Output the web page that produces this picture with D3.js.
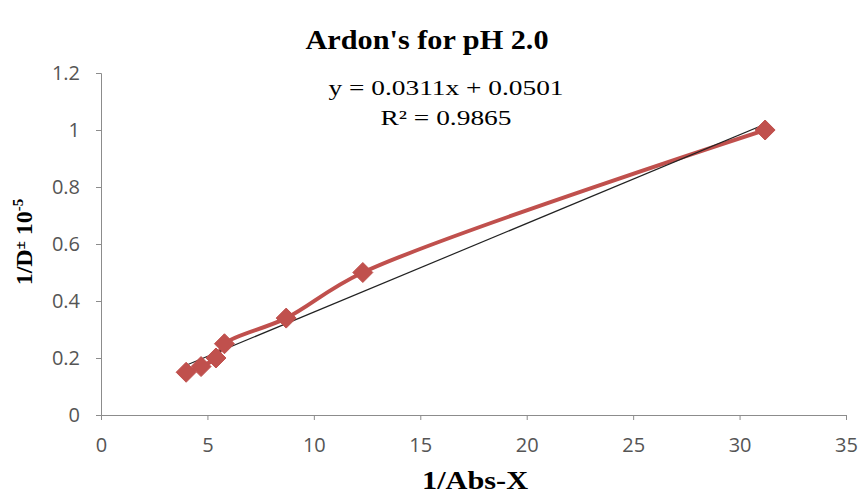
<!DOCTYPE html>
<html>
<head>
<meta charset="utf-8">
<script src="https://cdn.jsdelivr.net/npm/d3@7"></script>
<style>
  body { margin: 0; background: #fff; }
</style>
</head>
<body>
<div id="chart"></div>
<script>
// data
const xValues = [4.0, 4.7, 5.4, 5.8, 8.7, 12.3, 31.2];
const yValues = [0.15, 0.17, 0.20, 0.25, 0.34, 0.50, 1.00];
const xTicks = [0, 5, 10, 15, 20, 25, 30, 35];
const yTicks = [0, 0.2, 0.4, 0.6, 0.8, 1, 1.2];
const trendSlope = 0.0311;
const trendIntercept = 0.0501;
const equationLines = ["y = 0.0311x + 0.0501", "R² = 0.9865"];

const width = 862, height = 497;

const svg = d3.select("#chart").append("svg")
    .attr("width", width)
    .attr("height", height);

const x = d3.scaleLinear().domain([0, 35]).range([101, 846]);
const y = d3.scaleLinear().domain([0, 1.2]).range([415, 73]);

const axisColor = "#8c8c8c";
const tickFont = "'Open Sans', 'DejaVu Sans', sans-serif";
const serif = "'Liberation Serif', 'Times New Roman', serif";

// x axis
const xAxis = svg.append("g")
    .attr("transform", `translate(0,${y(0)})`)
    .call(d3.axisBottom(x).tickValues(xTicks).tickSize(5).tickPadding(18).tickFormat(d3.format("d")));
xAxis.select(".domain").attr("stroke", axisColor);
xAxis.selectAll(".tick line").attr("stroke", axisColor);
xAxis.selectAll("text")
    .attr("font-family", tickFont)
    .attr("font-size", 20)
    .attr("fill", "#555");

// y axis
const yAxis = svg.append("g")
    .attr("transform", `translate(${x(0)},0)`)
    .call(d3.axisLeft(y).tickValues(yTicks).tickSize(5).tickPadding(16).tickFormat(d => d3.format("")(+d.toFixed(1))));
yAxis.select(".domain").attr("stroke", axisColor);
yAxis.selectAll(".tick line").attr("stroke", axisColor);
yAxis.selectAll("text")
    .attr("font-family", tickFont)
    .attr("font-size", 20)
    .attr("fill", "#555");

const pts = xValues.map((v, i) => [v, yValues[i]]);

// series line (smoothed like the spreadsheet line)
const line = d3.line()
    .x(d => x(d[0]))
    .y(d => y(d[1]))
    .curve(d3.curveCatmullRom.alpha(0.5));

svg.append("path")
    .datum(pts)
    .attr("d", line)
    .attr("fill", "none")
    .attr("stroke", "#c0504d")
    .attr("stroke-width", 4)
    .attr("stroke-linejoin", "round");

// linear trendline
const x0 = d3.min(xValues), x1 = d3.max(xValues);
svg.append("line")
    .attr("x1", x(x0)).attr("y1", y(trendSlope * x0 + trendIntercept))
    .attr("x2", x(x1)).attr("y2", y(trendSlope * x1 + trendIntercept))
    .attr("stroke", "#222")
    .attr("stroke-width", 1.2);

// diamond markers
svg.selectAll(".marker")
    .data(pts)
    .enter().append("path")
    .attr("class", "marker")
    .attr("transform", d => `translate(${x(d[0])},${y(d[1])})`)
    .attr("d", "M0,-10L10,0L0,10L-10,0Z")
    .attr("fill", "#c0504d")
    .attr("stroke", "#c0504d")
    .attr("stroke-width", 1);

// title
svg.append("text")
    .attr("x", 427)
    .attr("y", 49)
    .attr("text-anchor", "middle")
    .attr("font-family", serif)
    .attr("font-weight", "bold")
    .attr("font-size", 27)
    .attr("textLength", 243)
    .attr("lengthAdjust", "spacingAndGlyphs")
    .attr("fill", "#000")
    .text("Ardon's for pH 2.0");

// equation
const eqWidths = [235, 131];
svg.selectAll(".eq")
    .data(equationLines)
    .enter().append("text")
    .attr("class", "eq")
    .attr("x", 446)
    .attr("y", (d, i) => 95 + i * 30)
    .attr("text-anchor", "middle")
    .attr("font-family", serif)
    .attr("font-size", 22)
    .attr("textLength", (d, i) => eqWidths[i])
    .attr("lengthAdjust", "spacingAndGlyphs")
    .attr("fill", "#000")
    .text(d => d);

// x axis title
svg.append("text")
    .attr("x", 475)
    .attr("y", 489)
    .attr("text-anchor", "middle")
    .attr("font-family", serif)
    .attr("font-weight", "bold")
    .attr("font-size", 25)
    .attr("textLength", 106)
    .attr("lengthAdjust", "spacingAndGlyphs")
    .attr("fill", "#000")
    .text("1/Abs-X");

// y axis title
const yTitle = svg.append("text")
    .attr("transform", "translate(32,242) rotate(-90)")
    .attr("text-anchor", "middle")
    .attr("font-family", serif)
    .attr("font-weight", "bold")
    .attr("font-size", 24)
    .attr("fill", "#000");
yTitle.append("tspan").text("1/D");
yTitle.append("tspan").attr("font-size", 15).attr("dy", -7).text("±");
yTitle.append("tspan").attr("dy", 7).text(" 10");
yTitle.append("tspan").attr("font-size", 15).attr("dy", -9).text("-5");
</script>
</body>
</html>
